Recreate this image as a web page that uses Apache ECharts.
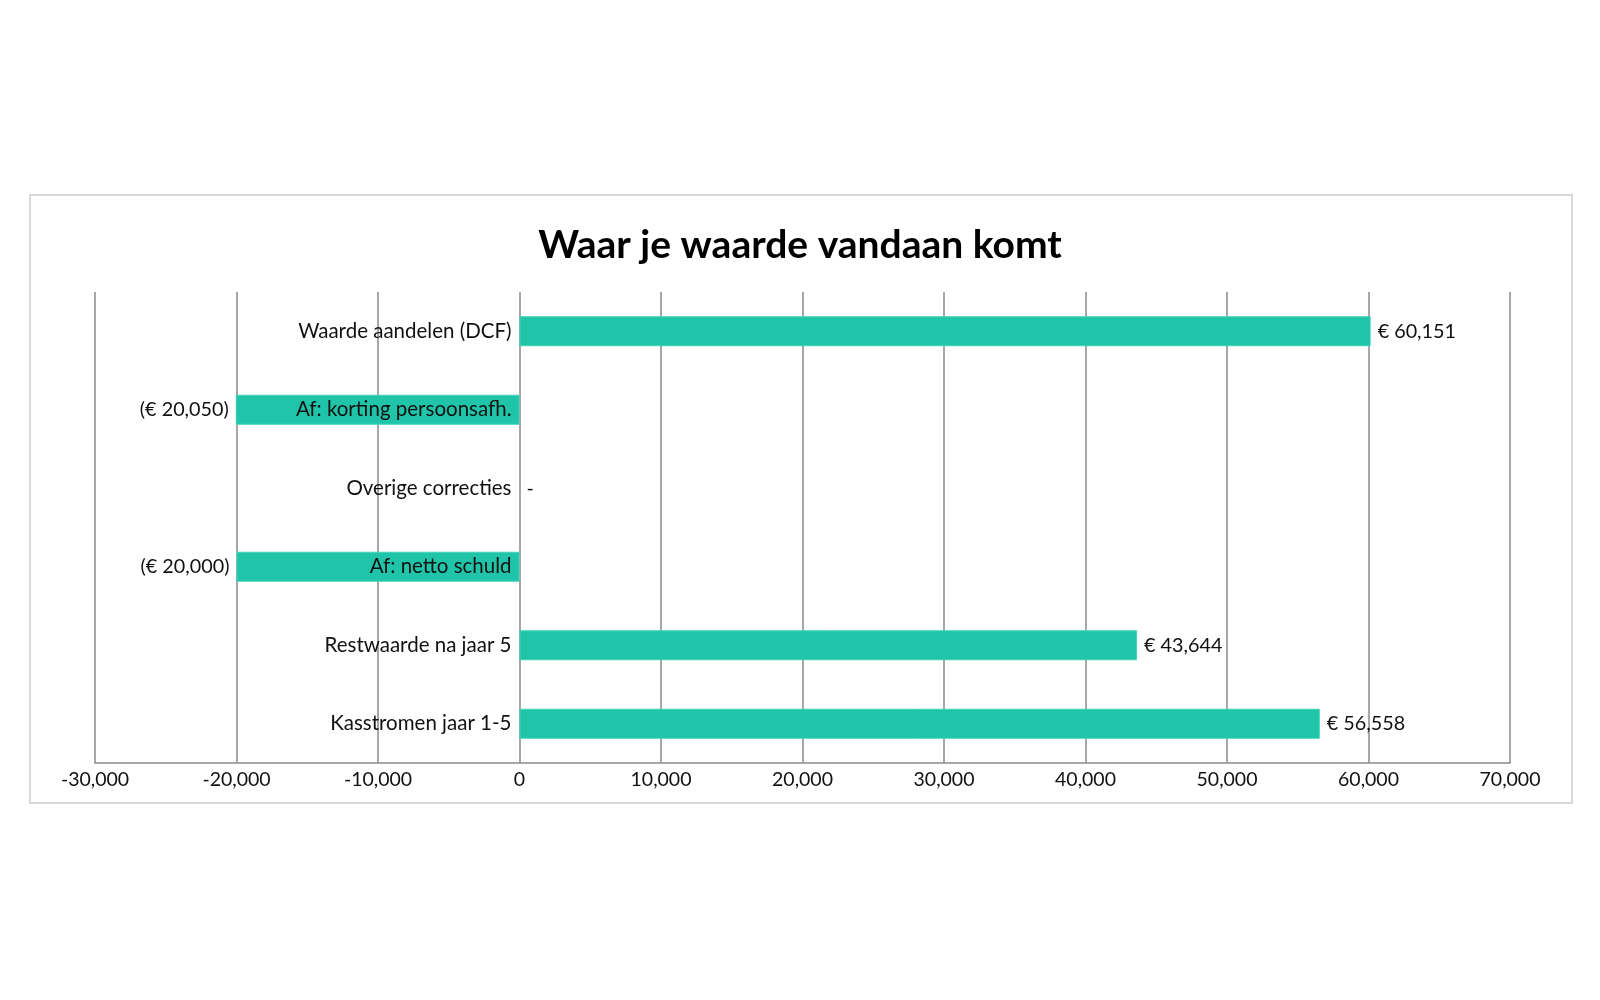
<!DOCTYPE html>
<html>
<head>
<meta charset="utf-8">
<script src="https://cdn.jsdelivr.net/npm/echarts@6/dist/echarts.min.js"></script>
<style>
html,body{margin:0;padding:0;background:#fff;}
#chart{width:1600px;height:1000px;}
</style>
</head>
<body>
<div id="chart"></div>
<script>
const titleText = 'Waar je waarde vandaan komt';
const categories = ['Waarde aandelen (DCF)', 'Af: korting persoonsafh.', 'Overige correcties', 'Af: netto schuld', 'Restwaarde na jaar 5', 'Kasstromen jaar 1-5'];
const values = [60151, -20050, 0, -20000, 43644, 56558];
const xMin = -30000, xMax = 70000, xStep = 10000;

const fmtNum = v => Math.abs(v).toLocaleString('en-US');
const fmtTick = v => (v < 0 ? '-' : '') + fmtNum(v);
const fmtValue = v => v === 0 ? '-' : (v < 0 ? '(€ ' + fmtNum(v) + ')' : '€ ' + fmtNum(v));

const FONT = 'Lato, "Noto Sans", sans-serif';
const GRID_LEFT = 95, GRID_RIGHT = 90, W = 1600;
const plotW = W - GRID_LEFT - GRID_RIGHT;
// category labels sit just left of the zero line
const zeroOffset = plotW * (0 - xMin) / (xMax - xMin);
const labelMargin = -(zeroOffset - 8);

const chart = echarts.init(document.getElementById('chart'));
chart.setOption({
  backgroundColor: '#ffffff',
  animation: false,
  title: {
    text: titleText, left: 'center', top: 226, padding: 0,
    textStyle: { fontFamily: FONT, fontSize: 39, fontWeight: 'bold', color: '#000000' }
  },
  graphic: [{
    type: 'rect', z: -1, silent: true,
    shape: { x: 30, y: 195, width: 1542, height: 608 },
    style: { fill: 'none', stroke: '#d9d9d9', lineWidth: 2 }
  }],
  grid: { left: GRID_LEFT, right: GRID_RIGHT, top: 292, bottom: 237, containLabel: false, outerBoundsMode: 'none' },
  xAxis: {
    type: 'value', min: xMin, max: xMax, interval: xStep,
    axisLine: { show: true, lineStyle: { color: '#8a8a8a', width: 1.5 } },
    axisTick: { show: false },
    splitLine: { show: true, lineStyle: { color: '#8a8a8a', width: 1.5 } },
    axisLabel: { formatter: fmtTick, fontFamily: FONT, fontSize: 19.5, color: '#111111', margin: 7 }
  },
  yAxis: {
    type: 'category', inverse: true, data: categories, z: 10,
    axisLine: { show: false },
    axisTick: { show: false },
    splitLine: { show: false },
    axisLabel: { fontFamily: FONT, fontSize: 20.5, color: '#111111', margin: labelMargin }
  },
  series: [{
    type: 'bar', barWidth: 30,
    itemStyle: { color: '#20C5A9' },
    label: {
      show: true, distance: 7, fontFamily: FONT, fontSize: 19.8, color: '#111111',
      formatter: p => fmtValue(p.value)
    },
    data: values.map(v => ({
      value: v,
      itemStyle: { borderColor: '#3fd3b8', borderWidth: v === 0 ? 0 : 1 },
      label: { position: v < 0 ? 'left' : 'right' }
    }))
  }]
});
</script>
</body>
</html>
